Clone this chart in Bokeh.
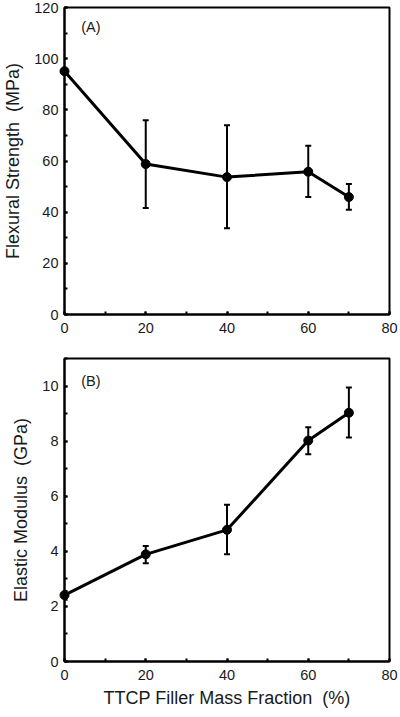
from bokeh.plotting import figure
from bokeh.layouts import column
from bokeh.models import ColumnDataSource, Whisker, TeeHead, FixedTicker, Range1d, Label
from bokeh.embed import file_html
from bokeh.resources import INLINE

# ---- data ----
mass_fraction = [0, 20, 40, 60, 70]
flexural_strength = [95.1, 58.8, 53.7, 55.8, 45.9]
flexural_upper = [96.2, 75.9, 74.0, 66.0, 51.0]
flexural_lower = [94.0, 41.6, 33.7, 45.9, 40.9]
elastic_modulus = [2.41, 3.89, 4.78, 8.02, 9.03]
elastic_upper = [2.56, 4.19, 5.69, 8.50, 9.95]
elastic_lower = [2.24, 3.57, 3.89, 7.52, 8.13]
x_ticks = [0, 20, 40, 60, 80]
x_minor = [0, 10, 20, 30, 40, 50, 60, 70, 80]
ya_ticks = [0, 20, 40, 60, 80, 100, 120]
ya_minor = [0, 10, 20, 30, 40, 50, 60, 70, 80, 90, 100, 110, 120]
yb_ticks = [0, 2, 4, 6, 8, 10]
yb_minor = [0, 1, 2, 3, 4, 5, 6, 7, 8, 9, 10, 11]

FONT = "Liberation Sans"
TXT = "#1a1a1a"
NB = "\u00a0"


def style(p, xt, xm, yt, ym):
    p.outline_line_color = "black"
    p.outline_line_width = 2
    p.grid.visible = False
    p.xaxis.ticker = FixedTicker(ticks=xt, minor_ticks=xm)
    p.yaxis.ticker = FixedTicker(ticks=yt, minor_ticks=ym)
    for ax in (p.xaxis, p.yaxis):
        ax.axis_line_width = 2
        ax.axis_line_color = "black"
        ax.major_tick_in = 3
        ax.major_tick_out = 0
        ax.minor_tick_in = 3
        ax.minor_tick_out = 0
        ax.major_tick_line_width = 2
        ax.minor_tick_line_width = 2
        ax.major_label_text_font = FONT
        ax.major_label_text_font_size = "14.5px"
        ax.major_label_text_color = TXT
        ax.axis_label_text_font = FONT
        ax.axis_label_text_font_size = "18px"
        ax.axis_label_text_font_style = "normal"
        ax.axis_label_text_color = TXT
    p.xaxis.major_label_standoff = 8
    p.yaxis.major_label_standoff = 6
    p.yaxis.axis_label_standoff = 8
    p.xaxis.axis_label_standoff = 5
    p.background_fill_color = "white"
    p.border_fill_color = "white"


def draw(p, x, y, up, lo):
    src = ColumnDataSource(dict(x=x, y=y, up=up, lo=lo))
    w = Whisker(base="x", upper="up", lower="lo", source=src,
                line_color="black", line_width=2,
                upper_head=TeeHead(size=6, line_width=2, line_color="black"),
                lower_head=TeeHead(size=6, line_width=2, line_color="black"))
    p.add_layout(w)
    p.line("x", "y", source=src, line_color="black", line_width=3, level="overlay")
    p.scatter("x", "y", source=src, size=9, color="black", level="overlay")


# ---- panel A ----
p1 = figure(width=400, height=345, output_backend="svg", toolbar_location=None,
            x_range=Range1d(0, 80), y_range=Range1d(0, 120),
            min_border_left=63, min_border_right=11, min_border_top=7, min_border_bottom=31)
style(p1, x_ticks, x_minor, ya_ticks, ya_minor)
p1.yaxis.axis_label = "Flexural Strength " + NB + "(MPa)"
draw(p1, mass_fraction, flexural_strength, flexural_upper, flexural_lower)
p1.add_layout(Label(x=4.1, y=112.3, text="(A)", text_font=FONT, text_font_size="14.5px",
                    text_color=TXT, text_baseline="middle", text_align="left"))

# ---- panel B ----
p2 = figure(width=400, height=372, output_backend="svg", toolbar_location=None,
            x_range=Range1d(0, 80), y_range=Range1d(0, 11),
            min_border_left=63, min_border_right=11, min_border_top=13, min_border_bottom=56)
style(p2, x_ticks, x_minor, yb_ticks, yb_minor)
p2.yaxis.axis_label = "Elastic Modulus " + NB + "(GPa)"
p2.xaxis.axis_label = "TTCP Filler Mass Fraction " + NB + "(%)"
draw(p2, mass_fraction, elastic_modulus, elastic_upper, elastic_lower)
p2.add_layout(Label(x=4.1, y=10.2, text="(B)", text_font=FONT, text_font_size="14.5px",
                    text_color=TXT, text_baseline="middle", text_align="left"))

layout = column(p1, p2, spacing=0)
open("out.html", "w").write(file_html(layout, INLINE))
